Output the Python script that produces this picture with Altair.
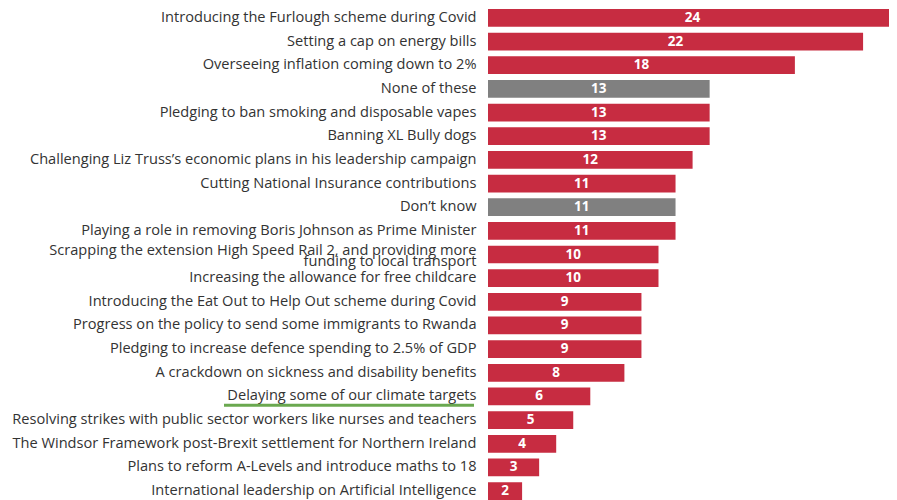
import altair as alt
import pandas as pd

labels = [
    "Introducing the Furlough scheme during Covid",
    "Setting a cap on energy bills",
    "Overseeing inflation coming down to 2%",
    "None of these",
    "Pledging to ban smoking and disposable vapes",
    "Banning XL Bully dogs",
    "Challenging Liz Truss’s economic plans in his leadership campaign",
    "Cutting National Insurance contributions",
    "Don’t know",
    "Playing a role in removing Boris Johnson as Prime Minister",
    "Scrapping the extension High Speed Rail 2, and providing more|funding to local transport",
    "Increasing the allowance for free childcare",
    "Introducing the Eat Out to Help Out scheme during Covid",
    "Progress on the policy to send some immigrants to Rwanda",
    "Pledging to increase defence spending to 2.5% of GDP",
    "A crackdown on sickness and disability benefits",
    "Delaying some of our climate targets",
    "Resolving strikes with public sector workers like nurses and teachers",
    "The Windsor Framework post-Brexit settlement for Northern Ireland",
    "Plans to reform A-Levels and introduce maths to 18",
    "International leadership on Artificial Intelligence",
]
values = [24, 22, 18, 13, 13, 13, 12, 11, 11, 11, 10, 10, 9, 9, 9, 8, 6, 5, 4, 3, 2]
kinds = ["policy", "policy", "policy", "other", "policy", "policy", "policy", "policy",
         "other", "policy", "policy", "policy", "policy", "policy", "policy", "policy",
         "policy", "policy", "policy", "policy", "policy"]
highlight = "Delaying some of our climate targets"

df = pd.DataFrame({"label": labels, "value": values, "kind": kinds})

y = alt.Y("label:N", sort=labels, title=None,
          scale=alt.Scale(paddingInner=0.25, paddingOuter=0),
          axis=alt.Axis(labelExpr="split(datum.label, '|')", labelFont="Open Sans",
                        labelFontSize=14.6, labelColor="#333333", labelPadding=12,
                        labelLimit=500, labelLineHeight=11.5, ticks=False, domain=False,
                        labelAlign="right",
                        labelOffset={"condition": {"test": "indexof(datum.label, '|') >= 0",
                                                   "value": -4}, "value": 0}))
x = alt.X("value:Q", title=None, axis=None, scale=alt.Scale(domain=[0, 23.52], nice=False))

bars = alt.Chart(df).mark_bar(clip=True).encode(
    x=x, y=y,
    color=alt.Color("kind:N", scale=alt.Scale(domain=["policy", "other"],
                                               range=["#c72c41", "#808080"]), legend=None),
)

text = alt.Chart(df).transform_calculate(mid="datum.value / 2").mark_text(
    color="white", font="Open Sans", fontWeight="bold", fontSize=13.5, baseline="middle"
).encode(x=alt.X("mid:Q"), y=alt.Y("label:N", sort=labels), text="value:Q")

underline = alt.Chart(pd.DataFrame({"label": [highlight]})).mark_rule(
    color="#6aa84f", strokeWidth=3
).encode(y=alt.Y("label:N", sort=labels, bandPosition=1),
         x=alt.value(-264), x2=alt.value(-14))

chart = alt.layer(bars, text, underline).properties(
    width=401, height=491,
    autosize=alt.AutoSizeParams(type="none"),
    padding={"left": 480, "top": 1, "right": 0, "bottom": 0},
).configure_view(stroke=None)

chart.save("out.html", embed_options={"renderer": "svg", "actions": False})
